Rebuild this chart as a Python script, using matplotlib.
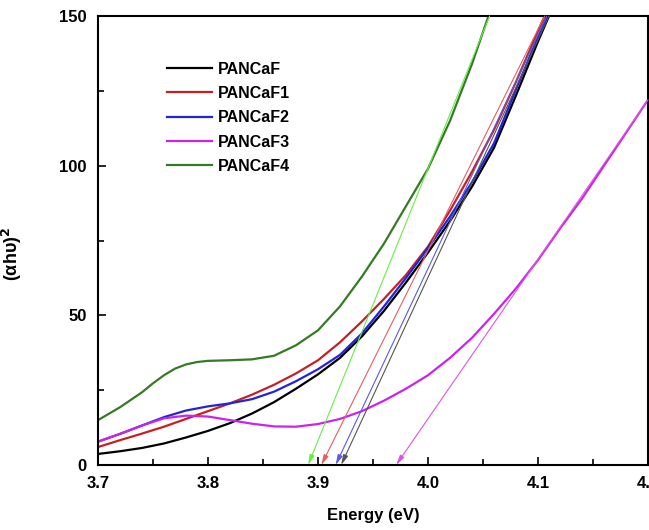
import matplotlib
matplotlib.use("Agg")
import matplotlib.pyplot as plt

plt.rcParams["font.family"] = ["Liberation Sans", "DejaVu Sans"]
plt.rcParams["font.weight"] = "bold"

# values
energy_0 = [3.70, 3.72, 3.74, 3.76, 3.78, 3.80, 3.82, 3.84, 3.86, 3.88, 3.90, 3.92, 3.94,
            3.96, 3.98, 4.00, 4.02, 4.04, 4.06, 4.08, 4.10, 4.11]
alpha_0 = [3.7, 4.6, 5.7, 7.2, 9.2, 11.4, 14.0, 17.2, 21.0, 25.5, 30.3, 35.8, 43.0,
           51.5, 61.0, 71.0, 81.5, 93.0, 106.0, 123.5, 141.5, 150.0]

energy_1 = [3.70, 3.72, 3.74, 3.76, 3.78, 3.80, 3.82, 3.84, 3.86, 3.88, 3.90, 3.92, 3.94,
            3.96, 3.98, 4.00, 4.02, 4.04, 4.06, 4.08, 4.10, 4.106]
alpha_1 = [6.0, 8.3, 10.5, 12.8, 15.4, 18.0, 20.6, 23.5, 26.8, 30.6, 35.0, 41.0, 48.0,
           55.5, 63.5, 73.0, 85.0, 98.0, 112.0, 128.0, 145.0, 150.0]

energy_2 = [3.70, 3.72, 3.74, 3.76, 3.78, 3.80, 3.82, 3.84, 3.86, 3.88, 3.90, 3.92, 3.94,
            3.96, 3.98, 4.00, 4.02, 4.04, 4.06, 4.08, 4.10, 4.108]
alpha_2 = [7.8, 10.4, 13.2, 16.0, 18.2, 19.6, 20.6, 22.0, 24.5, 28.0, 32.0, 36.8, 44.0,
           53.0, 62.5, 72.5, 83.0, 94.5, 107.5, 125.5, 143.0, 150.0]

energy_3 = [3.70, 3.72, 3.74, 3.76, 3.78, 3.80, 3.82, 3.84, 3.86, 3.88, 3.90, 3.92, 3.94,
            3.96, 3.98, 4.00, 4.02, 4.04, 4.06, 4.08, 4.10, 4.12, 4.14, 4.16, 4.18, 4.20]
alpha_3 = [7.8, 10.4, 13.2, 15.6, 16.5, 16.2, 15.0, 13.8, 12.9, 12.8, 13.7, 15.4, 18.0,
           21.5, 25.5, 30.0, 35.8, 42.5, 50.5, 59.0, 68.5, 79.0, 89.0, 100.0, 111.0, 122.0]

energy_4 = [3.70, 3.72, 3.74, 3.75, 3.76, 3.77, 3.78, 3.79, 3.80, 3.82, 3.84, 3.86, 3.88,
            3.90, 3.92, 3.94, 3.96, 3.98, 4.00, 4.02, 4.04, 4.055]
alpha_4 = [15.0, 19.3, 24.3, 27.3, 30.0, 32.2, 33.6, 34.4, 34.8, 35.0, 35.3, 36.5, 40.0,
           45.0, 53.0, 63.0, 74.0, 86.5, 99.0, 115.0, 134.0, 150.0]

labels = ["PANCaF", "PANCaF1", "PANCaF2", "PANCaF3", "PANCaF4"]
colors = ["black", "#c42222", "#2323dd", "#cc22ee", "#357a25"]

# tangent lines: where they meet the energy axis and their upper end
fit_start = [3.921, 3.903, 3.916, 3.971, 3.891]
fit_end_x = [4.110, 4.106, 4.108, 4.200, 4.056]
fit_end_y = [150, 150, 150, 122, 150]
fit_colors = ["#555555", "#e06060", "#5a5ae6", "#dd55dd", "#66ee44"]

fig = plt.figure(figsize=(6.49, 5.30), dpi=100)
ax = fig.add_axes([0.151, 0.1226, 0.8475, 0.8472])

series = [(energy_0, alpha_0), (energy_1, alpha_1), (energy_2, alpha_2),
          (energy_3, alpha_3), (energy_4, alpha_4)]
for (xs, ys), lab, c in zip(series, labels, colors):
    ax.plot(xs, ys, color=c, lw=1.6, label=lab)

for x0, x1, y1, c in zip(fit_start, fit_end_x, fit_end_y, fit_colors):
    ax.annotate("", xy=(x0, 0), xytext=(x1, y1),
                arrowprops=dict(arrowstyle="-|>,head_length=0.6,head_width=0.15",
                                color=c, lw=0.8, shrinkA=0, shrinkB=0))

ax.set_xlim(3.7, 4.2)
ax.set_ylim(0, 150)
ax.set_xticks([3.7, 3.8, 3.9, 4.0, 4.1, 4.2])
ax.set_xticklabels(["3.7", "3.8", "3.9", "4.0", "4.1", "4.2"])
ax.set_xticks([3.75, 3.85, 3.95, 4.05, 4.15], minor=True)
ax.set_yticks([0, 50, 100, 150])
ax.set_yticks([25, 75, 125], minor=True)
ax.tick_params(which="both", direction="in", labelsize=12, width=1.2)
ax.tick_params(which="major", length=6, pad=8)
ax.tick_params(which="minor", length=4)
for s in ax.spines.values():
    s.set_linewidth(1.5)
for t in ax.get_xticklabels() + ax.get_yticklabels():
    t.set_fontweight("bold")

ax.set_xlabel("Energy (eV)", fontsize=12, fontweight="bold")
ax.xaxis.set_label_coords(0.5, -0.095)
ax.set_ylabel("(αhυ)$^2$", fontsize=13, fontweight="bold")
ax.yaxis.set_label_coords(-0.135, 0.47)

leg = ax.legend(loc="upper left", bbox_to_anchor=(0.1, 0.93), frameon=False,
                prop={"weight": "bold", "size": 11.5}, handlelength=2.8,
                labelspacing=0.58, handletextpad=0.35)

fig.savefig("out.png", dpi=100)
